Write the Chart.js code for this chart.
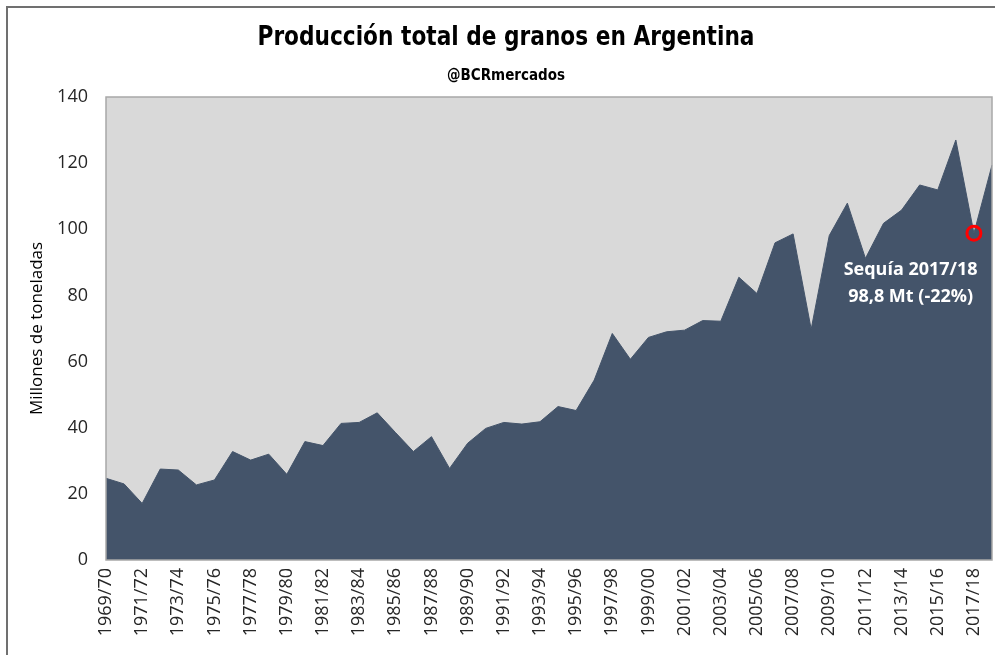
<!DOCTYPE html>
<html><head><meta charset="utf-8">
<script src="https://cdn.jsdelivr.net/npm/chart.js@4.4.1/dist/chart.umd.min.js"></script>
<style>html,body{margin:0;padding:0;background:#fff;overflow:hidden}#wrap{width:995px;height:655px;position:relative}</style>
</head><body><div id="wrap"><canvas id="c" width="995" height="655"></canvas></div>
<script>
const seasons = ['1969/70','1970/71','1971/72','1972/73','1973/74','1974/75','1975/76','1976/77','1977/78','1978/79',
 '1979/80','1980/81','1981/82','1982/83','1983/84','1984/85','1985/86','1986/87','1987/88','1988/89',
 '1989/90','1990/91','1991/92','1992/93','1993/94','1994/95','1995/96','1996/97','1997/98','1998/99',
 '1999/00','2000/01','2001/02','2002/03','2003/04','2004/05','2005/06','2006/07','2007/08','2008/09',
 '2009/10','2010/11','2011/12','2012/13','2013/14','2014/15','2015/16','2016/17','2017/18','2018/19'];
const produccion = [24.7,23.0,17.1,27.5,27.2,22.7,24.2,32.8,30.2,32.0,
 25.9,35.8,34.6,41.3,41.6,44.5,38.6,32.8,37.3,27.7,
 35.3,39.8,41.6,41.1,41.8,46.4,45.2,54.4,68.5,60.7,
 67.3,69.0,69.5,72.4,72.2,85.5,80.6,95.9,98.6,69.8,
 98.1,107.9,91.2,101.8,105.8,113.4,111.9,127.0,98.8,119.4];
const yMin = 0, yMax = 140, yStep = 20;
const highlightSeason = '2017/18';
const highlightValue = 98.8;
const titleText = 'Producción total de granos en Argentina';
const subtitleText = '@BCRmercados';
const yAxisTitle = 'Millones de toneladas';
const annotationLines = ['Sequía 2017/18', '98,8 Mt (-22%)'];
const annotationAnchor = {x: 44.5, y: [86.2, 78.0]};

const highlightData = seasons.map(s => s === highlightSeason ? highlightValue : null);
const tickColor = '#262626';
const condensed = "'DejaVu Sans Condensed','Liberation Sans Narrow',sans-serif";

function drawFitted(ctx, text, font, cx, baseline, targetW) {
  ctx.font = font;
  const w = ctx.measureText(text).width;
  ctx.save();
  ctx.translate(cx, baseline);
  ctx.scale(targetW / w, 1);
  ctx.textAlign = 'center';
  ctx.textBaseline = 'alphabetic';
  ctx.fillText(text, 0, 0);
  ctx.restore();
}

const decor = {
  id: 'decor',
  beforeDraw(chart) {
    const {ctx, chartArea: a} = chart;
    ctx.save();
    ctx.fillStyle = '#ffffff';
    ctx.fillRect(0, 0, chart.width, chart.height);
    ctx.fillStyle = '#d9d9d9';
    ctx.fillRect(a.left, a.top, a.right - a.left, a.bottom - a.top);
    ctx.strokeStyle = '#707070';
    ctx.lineWidth = 2;
    ctx.beginPath();
    ctx.moveTo(7, chart.height); ctx.lineTo(7, 7); ctx.lineTo(chart.width, 7);
    ctx.stroke();
    ctx.fillStyle = '#000000';
    drawFitted(ctx, titleText, 'bold 27px ' + condensed, 506, 45, 497);
    drawFitted(ctx, subtitleText, 'bold 16px ' + condensed, 506, 80, 118);
    ctx.restore();
  },
  afterDatasetsDraw(chart) {
    const {ctx, chartArea: a, scales} = chart;
    ctx.save();
    ctx.strokeStyle = '#a8a8a8';
    ctx.lineWidth = 1.5;
    ctx.strokeRect(a.left, a.top, a.right - a.left, a.bottom - a.top);
    ctx.fillStyle = '#ffffff';
    ctx.font = "bold 18px 'Open Sans', sans-serif";
    ctx.textAlign = 'center';
    ctx.textBaseline = 'alphabetic';
    const x = scales.x.getPixelForValue(annotationAnchor.x);
    annotationLines.forEach((t, i) => {
      ctx.fillText(t, x, scales.y.getPixelForValue(annotationAnchor.y[i]));
    });
    ctx.restore();
  }
};

new Chart(document.getElementById('c'), {
  type: 'line',
  data: {
    labels: seasons,
    datasets: [
      {
        label: highlightSeason,
        data: highlightData,
        showLine: false,
        pointRadius: 7,
        pointBorderWidth: 3,
        pointBorderColor: '#ff0000',
        pointBackgroundColor: 'rgba(0,0,0,0)',
        order: 0
      },
      {
        label: 'Producción',
        data: produccion,
        fill: 'origin',
        backgroundColor: '#44546a',
        borderColor: '#44546a',
        borderWidth: 1,
        tension: 0,
        pointRadius: 0,
        order: 1
      }
    ]
  },
  options: {
    responsive: false,
    devicePixelRatio: 1,
    animation: false,
    layout: {autoPadding: false, padding: {top: 97, left: 0, right: 3, bottom: 0}},
    plugins: {legend: {display: false}, tooltip: {enabled: false}, title: {display: false}},
    scales: {
      x: {
        type: 'category',
        offset: false,
        grid: {display: false, drawTicks: false},
        border: {display: false},
        ticks: {
          autoSkip: false, maxRotation: 90, minRotation: 90, padding: 8,
          color: tickColor, font: {family: "'Open Sans', sans-serif", size: 18},
          callback: (v, i) => (i % 2 === 0 ? seasons[i] : '')
        },
        afterFit: s => { s.height = 95; s.paddingLeft = 0; s.paddingRight = 0; }
      },
      y: {
        min: yMin, max: yMax,
        grid: {display: false, drawTicks: false},
        border: {display: false},
        ticks: {stepSize: yStep, padding: 18, color: tickColor, font: {family: "'Open Sans', sans-serif", size: 18}},
        title: {display: true, text: yAxisTitle, color: '#000000', font: {family: "'Open Sans', sans-serif", size: 17}, padding: {top: 27, bottom: 0}},
        afterFit: s => { s.width = 106; s.paddingTop = 0; s.paddingBottom = 0; }
      }
    }
  },
  plugins: [decor]
});
</script></body></html>
